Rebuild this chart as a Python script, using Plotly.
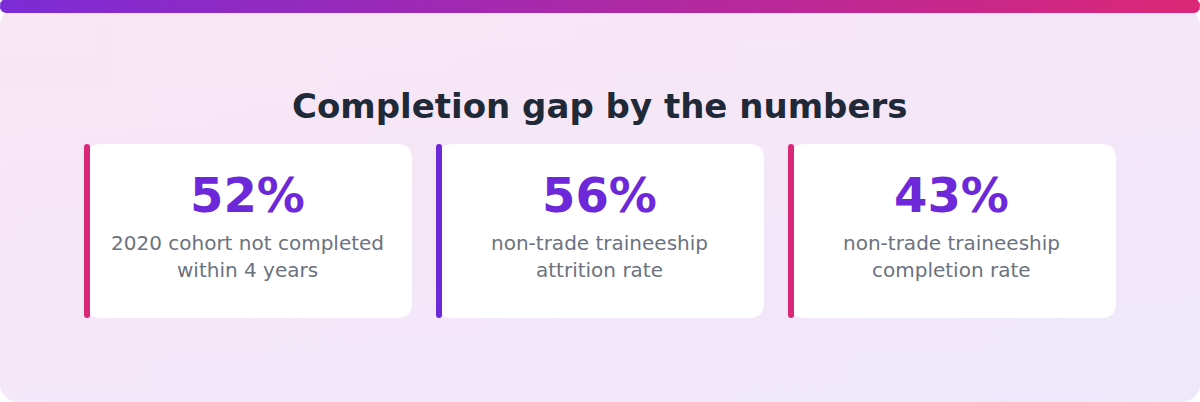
import numpy as np
import plotly.graph_objects as go

# KPI data
title = "Completion gap by the numbers"
values = [52, 56, 43]
labels = [
    "2020 cohort not completed<br>within 4 years",
    "non-trade traineeship<br>attrition rate",
    "non-trade traineeship<br>completion rate",
]

accents = ["#db2777", "#6d28d9", "#db2777"]
W, H = 1200, 402


def rounded_rect(x0, y0, x1, y1, r, n=12):
    # polygon points for a rounded rectangle (y axis points down)
    xs, ys = [], []
    corners = [
        (x1 - r, y0 + r, -np.pi / 2, 0),
        (x1 - r, y1 - r, 0, np.pi / 2),
        (x0 + r, y1 - r, np.pi / 2, np.pi),
        (x0 + r, y0 + r, np.pi, 1.5 * np.pi),
    ]
    for cx, cy, a0, a1 in corners:
        t = np.linspace(a0, a1, n)
        xs += list(cx + r * np.cos(t))
        ys += list(cy + r * np.sin(t))
    xs.append(xs[0])
    ys.append(ys[0])
    return xs, ys


def rr_path(x0, y0, x1, y1, r):
    return (f"M{x0 + r},{y0} L{x1 - r},{y0} Q{x1},{y0} {x1},{y0 + r} "
            f"L{x1},{y1 - r} Q{x1},{y1} {x1 - r},{y1} L{x0 + r},{y1} "
            f"Q{x0},{y1} {x0},{y1 - r} L{x0},{y0 + r} Q{x0},{y0} {x0 + r},{y0} Z")


fig = go.Figure()

# card background: horizontal gradient + vertical tint on top
bx, by = rounded_rect(0, 8, W, H, 18)
fig.add_trace(go.Scatter(
    x=bx, y=by, mode="lines", fill="toself", line=dict(width=0),
    fillgradient=dict(type="horizontal",
                      colorscale=[[0, "#f9e6f4"], [1, "#efe8fb"]]),
    hoverinfo="skip", showlegend=False))
fig.add_trace(go.Scatter(
    x=bx, y=by, mode="lines", fill="toself", line=dict(width=0),
    fillgradient=dict(type="vertical",
                      colorscale=[[0, "rgba(237,232,252,0.5)"],
                                  [1, "rgba(251,230,243,0.5)"]]),
    hoverinfo="skip", showlegend=False))

# top accent bar
tx, ty = rounded_rect(0, -1, W, 13, 6)
fig.add_trace(go.Scatter(
    x=tx, y=ty, mode="lines", fill="toself", line=dict(width=0),
    fillgradient=dict(type="horizontal",
                      colorscale=[[0, "#7c2bd6"], [1, "#db2777"]]),
    hoverinfo="skip", showlegend=False))

shapes = []
annotations = [dict(
    x=W / 2, y=106, text=f"<b>{title}</b>", showarrow=False,
    font=dict(family="DejaVu Sans", size=34, color="#1f2937"),
    xanchor="center", yanchor="middle")]

for i, (v, lab) in enumerate(zip(values, labels)):
    left = 86 + i * 352
    right = left + 326
    cx = (left + right) / 2 - 2
    shapes.append(dict(type="path", path=rr_path(left, 144, right, 318, 15),
                       fillcolor="white", line=dict(width=0), layer="above"))
    shapes.append(dict(type="path", path=rr_path(left - 2, 144, left + 4, 318, 3),
                       fillcolor=accents[i], line=dict(width=0), layer="above"))
    annotations.append(dict(
        x=cx, y=195, text=f"<b>{v}%</b>", showarrow=False,
        font=dict(family="DejaVu Sans", size=48, color="#6d28d9"),
        xanchor="center", yanchor="middle"))
    for j, line in enumerate(lab.split("<br>")):
        annotations.append(dict(
            x=cx, y=243 + j * 27, text=line, showarrow=False,
            font=dict(family="DejaVu Sans", size=20, color="#6b7280"),
            xanchor="center", yanchor="middle"))

fig.update_layout(
    width=W, height=H,
    margin=dict(l=0, r=0, t=0, b=0),
    paper_bgcolor="white", plot_bgcolor="white",
    xaxis=dict(range=[0, W], visible=False, fixedrange=True),
    yaxis=dict(range=[H, 0], visible=False, fixedrange=True),
    shapes=shapes, annotations=annotations,
    showlegend=False,
)

fig.write_html("out.html", config={"displayModeBar": False},
               post_script="document.body.style.margin='0';")
